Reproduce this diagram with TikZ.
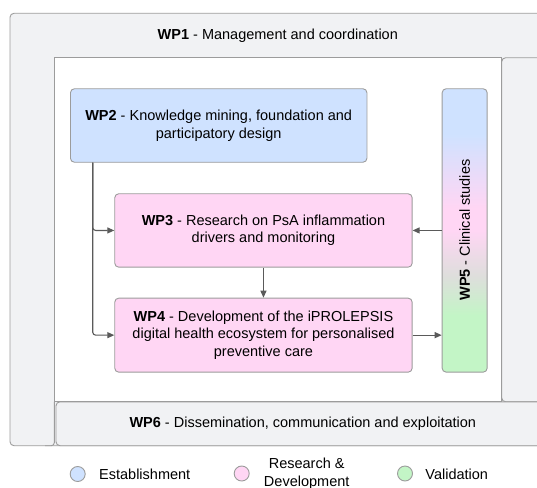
\documentclass[tikz,border=0pt]{standalone}
\usepackage{fontspec}
\setmainfont{Liberation Sans}
\usetikzlibrary{arrows.meta,calc}
\definecolor{wpgray}{HTML}{F1F2F4}
\definecolor{wpline}{HTML}{9C9C9C}
\definecolor{wpblue}{HTML}{CFE2FF}
\definecolor{wppink}{HTML}{FFD6F4}
\definecolor{wpgreen}{HTML}{C3F5C6}
\definecolor{wpmix}{HTML}{DEDEDC}
\definecolor{arrowc}{HTML}{5A5A5A}
\pgfdeclareverticalshading{wpfive}{100bp}{color(0bp)=(wpgreen); color(35bp)=(wpgreen); color(42bp)=(wpmix); color(50bp)=(wppink); color(54bp)=(wppink); color(67bp)=(wpblue); color(100bp)=(wpblue)}
\tikzset{
  frame/.style={draw=wpline, fill=wpgray, line width=0.9pt, rounded corners=4pt},
  wpbox/.style={draw=wpline, line width=0.9pt, rounded corners=4pt, align=center, inner sep=2pt, anchor=north west},
  conn/.style={draw=arrowc, line width=1.1pt, -{Triangle[length=7pt,width=6pt]}},
  lbl/.style={inner sep=0pt, align=center},
  dot/.style={circle, draw=wpline, line width=0.9pt, minimum size=15pt, inner sep=0pt}
}
\begin{document}
\begin{tikzpicture}[x=1pt,y=-1pt,font=\fontsize{14.5}{17.5}\selectfont]
\useasboundingbox (0,0) rectangle (537,487);
\fill[white] (0,0) rectangle (537,487);
\clip (0,0) rectangle (537,487);
% frames
\path[frame] (10,13.3) rectangle (570,445.7);
\path[frame] (501.7,57.7) rectangle (570,401.8);
\path[frame] (56,401.8) rectangle (570,445.7);
\path[draw=wpline, fill=white, line width=0.9pt] (54.3,57.7) rectangle (501.7,401.8);
\draw[wpline, line width=0.9pt, rounded corners=3pt] (54.3,401.8) -- (54.3,445.7) -- (45,445.7);
\node[lbl] (wp1) at (277.8,35.7) {\textbf{WP1} - Management and coordination};
\node[lbl] (wp6) at (302.8,423.3) {\textbf{WP6} - Dissemination, communication and exploitation};
% work packages
\node[wpbox, fill=wpblue, minimum width=296.5pt, minimum height=73.5pt] (wp2) at (70,88.3)
  {\textbf{WP2} - Knowledge mining, foundation and\\participatory design};
\node[wpbox, fill=wppink, minimum width=297.4pt, minimum height=73.4pt] (wp3) at (114.3,193.3)
  {\textbf{WP3} - Research on PsA inflammation\\drivers and monitoring};
\node[wpbox, fill=wppink, minimum width=297.4pt, minimum height=74pt] (wp4) at (114.3,297.7)
  {\textbf{WP4} - Development of the iPROLEPSIS\\digital health ecosystem for personalised\\preventive care};
\node[wpbox, shade, shading=wpfive, minimum width=45pt, minimum height=283.4pt] (wp5) at (441.7,88.3) {};
\node[lbl, rotate=90] (wp5t) at (wp5.center |- 0,230) {\textbf{WP5} - Clinical studies};
% connectors
\coordinate (src) at ($(wp2.south west)+(22.7,0)$);
\draw[conn, rounded corners=3pt] (src) |- (wp3.west);
\draw[conn, rounded corners=3pt] (src) |- (wp4.west);
\draw[conn] (wp3.south) -- (wp4.north);
\draw[conn] (wp5.west |- wp3.east) -- (wp3.east);
\draw[conn] (wp4.east) -- (wp5.west |- wp4.east);
% legend
\node[dot, fill=wpblue] (lb) at (77.7,474) {};
\node[lbl, anchor=west] (lbt) at (99,474) {Establishment};
\node[dot, fill=wppink] (lp) at (241.7,473.5) {};
\node[lbl, font=\fontsize{14.5}{17.8}\selectfont] (lpt) at (306.7,474) {Research \&\\Development};
\node[dot, fill=wpgreen] (lg) at (405,473.5) {};
\node[lbl] (lgt) at (456.7,474) {Validation};
\end{tikzpicture}
\end{document}
